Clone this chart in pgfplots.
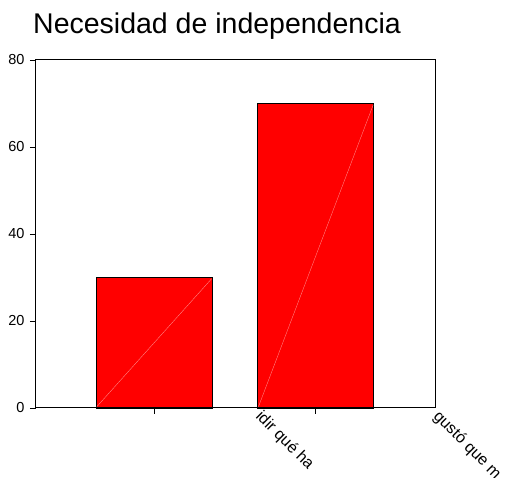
\documentclass[border=0pt]{standalone}
\usepackage{pgfplots}
\pgfplotsset{compat=1.18}
\usepackage{fontspec}
\setmainfont{Liberation Sans}
\begin{document}
\begin{tikzpicture}
\useasboundingbox (-36pt,-70pt) rectangle (471pt,408pt);
\begin{axis}[
  name=ax,
  at={(0,0)}, anchor=south west,
  scale only axis,
  width=399pt, height=348pt,
  xmin=0.269, xmax=2.737,
  ymin=0, ymax=80,
  ytick={0,20,40,60,80},
  xtick={1,2},
  xticklabels={},
  tick align=outside,
  major tick length=6pt,
  xtick pos=bottom, ytick pos=left,
  tick style={black, line width=0.8pt},
  axis line style={black, line width=1pt},
  ticklabel style={font=\fontsize{14.5}{17}\selectfont},
  /pgf/number format/assume math mode=true,
  yticklabel style={xshift=-2pt},
  clip=false,
]
\addplot[ybar, bar width=0.718, fill={rgb,255:red,255;green,0;blue,0}, draw=black, line width=1.2pt]
  coordinates {(1,30) (2,70)};
\addplot[red!40!white, line width=0.3pt] coordinates {(0.645,0.3) (1.355,29.7)};
\addplot[red!40!white, line width=0.3pt] coordinates {(1.645,0.3) (2.355,69.7)};
\node[rotate=-45, anchor=north west, inner sep=0pt, font=\fontsize{16}{19}\selectfont]
  at (axis cs:1.68,0) [yshift=-1pt] {idir qué ha};
\node[rotate=-45, anchor=north west, inner sep=0pt, font=\fontsize{16}{19}\selectfont]
  at (axis cs:2.78,0) [yshift=-1pt] {gustó que m};
\end{axis}
\node[anchor=base west, inner sep=0pt, font=\fontsize{28.5}{32}\selectfont]
  at ([shift={(-3pt,26pt)}]ax.north west) {Necesidad de independencia};
\end{tikzpicture}
\end{document}
